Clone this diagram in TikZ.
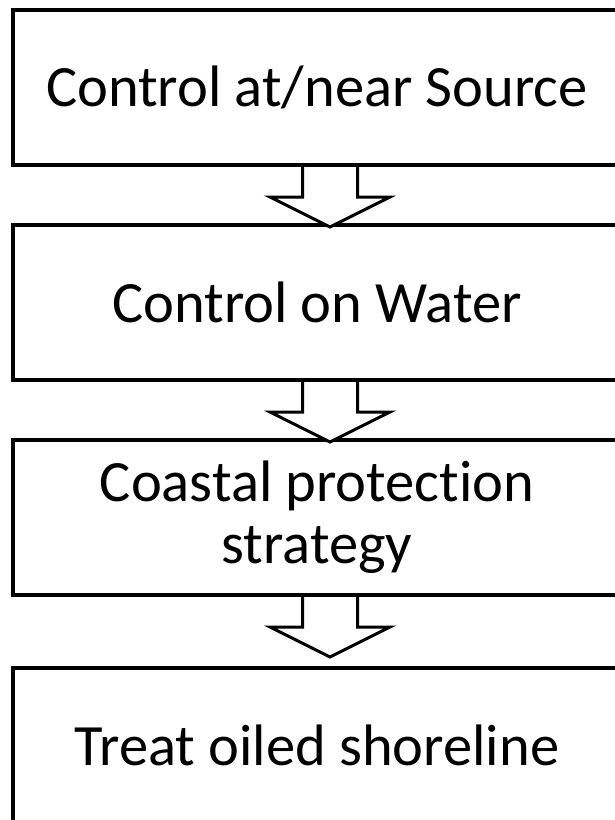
\documentclass[tikz,border=0pt]{standalone}
\usepackage{fontspec}
\setmainfont[Ligatures=NoCommon]{Carlito}
\begin{document}
\begin{tikzpicture}[x=1pt,y=-1pt,
  stagebox/.style={draw=black,line width=4pt,minimum width=608pt,minimum height=155pt,inner sep=0pt,align=center,font=\fontsize{58.5}{62}\selectfont},
  flowarrow/.style={draw=black,line width=3pt,fill=white,line join=miter}]
\useasboundingbox (0,0) rectangle (615,820);
\node[stagebox] (b1) at (317,87.5) {Control at/near Source};
\node[stagebox] (b2) at (317,302.5) {Control on Water};
\node[stagebox] (b3) at (317,517.5) {Coastal protection\\strategy};
\node[stagebox] (b4) at (317,745.5) {Treat oiled shoreline};
\foreach \a/\b in {b1/b2,b2/b3,b3/b4}{
  \path (\a.south) ++(13,0) coordinate (t);
  \draw[flowarrow] (t) ++(-27.5,0) -- ++(0,30) -- ++(-32.5,0) -- ++(60,30) -- ++(60,-30) -- ++(-32.5,0) -- ++(0,-30);
}
\end{tikzpicture}
\end{document}
